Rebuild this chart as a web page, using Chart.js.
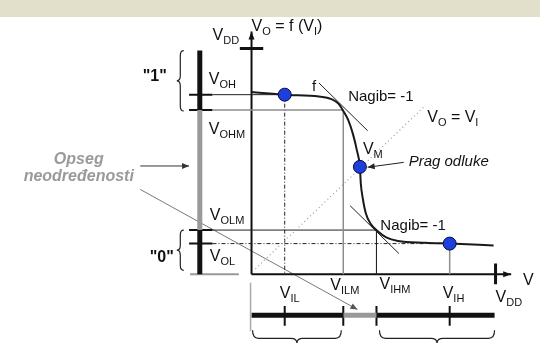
<!DOCTYPE html>
<html>
<head>
<meta charset="utf-8">
<script src="https://cdn.jsdelivr.net/npm/chart.js@4"></script>
<style>
  html, body { margin: 0; padding: 0; background: #fff; }
  #wrap { position: relative; width: 540px; height: 343px; overflow: hidden; }
  #banner { position: absolute; left: 0; top: 0; width: 540px; height: 17px; background: #e2e0ca; }
  #vtc { position: absolute; left: 0; top: 0; }
</style>
</head>
<body>
<div id="wrap">
  <div id="banner"></div>
  <canvas id="vtc" width="540" height="343"></canvas>
</div>
<script>
// supply and logic levels (V)
const VDD = 2.5;
const VOH = 1.99, VOHM = 1.82, VOLM = 0.49, VOL = 0.34;
const VIL = 0.34, VILM = 0.94, VIHM = 1.28, VIH = 2.03;

// transfer characteristic V_O = f(V_I)
const curveVin  = [0, 0.34, 0.69, 0.82, 0.89, 0.94, 0.99, 1.04, 1.08, 1.11, 1.12, 1.14, 1.17, 1.22, 1.29, 1.38, 1.50, 1.78, 2.03, 2.48];
const curveVout = [2.02, 1.99, 1.97, 1.94, 1.89, 1.81, 1.71, 1.55, 1.37, 1.19, 1.00, 0.84, 0.68, 0.56, 0.48, 0.41, 0.37, 0.35, 0.34, 0.32];

// marked points: (VIL,VOH), VM, (VIH,VOL)
const markerVin  = [VIL, 1.11, VIH];
const markerVout = [VOH, 1.19, VOL];

// slope = -1 tangents and the V_O = V_I line
const tangentHigh = [[0.69, 2.12], [1.19, 1.59]];
const tangentLow  = [[1.01, 0.76], [1.51, 0.23]];
const unityLine   = [[0.04, 0.06], [1.78, 1.87]];

// side bars (output range on the left, input range below)
const barX = -0.53, barTicks = [-0.64, -0.40];
const barY = -0.455, barYTicks = [-0.35, -0.57];

const FONT = '"Liberation Sans", Arial, sans-serif';

function pts(xs, ys) { return xs.map((x, i) => ({ x: x, y: ys[i] })); }

function seg(x1, y1, x2, y2, color, width, dash, extra) {
  return Object.assign({
    data: [{ x: x1, y: y1 }, { x: x2, y: y2 }],
    showLine: true, borderColor: color, borderWidth: width,
    borderDash: dash || [], pointRadius: 0, borderCapStyle: 'butt'
  }, extra || {});
}

const BLACK = '#111', GRAY = '#8c8c8c', DASHDOT = [4, 2, 1, 2];

const datasets = [
  // blue markers on the curve
  { data: pts(markerVin, markerVout), pointRadius: 6.5, pointBackgroundColor: '#1d3fdc',
    pointBorderColor: '#0b0b40', pointBorderWidth: 1, showLine: false },
  // the characteristic
  { data: pts(curveVin, curveVout), showLine: true, borderColor: '#1a1a1a', borderWidth: 2,
    pointRadius: 0, cubicInterpolationMode: 'monotone' },
  seg(tangentHigh[0][0], tangentHigh[0][1], tangentHigh[1][0], tangentHigh[1][1], '#222', 1),
  seg(tangentLow[0][0], tangentLow[0][1], tangentLow[1][0], tangentLow[1][1], '#222', 1),
  seg(unityLine[0][0], unityLine[0][1], unityLine[1][0], unityLine[1][1], '#9a9a9a', 1.2, [1, 3]),

  // level guide lines
  seg(barTicks[1], VOH, VIL, VOH, '#222', 1),
  seg(barTicks[1], VOHM, VILM, VOHM, GRAY, 1.5),
  seg(VILM, VOHM, VILM, 0, GRAY, 1.5),
  seg(barTicks[1], VOLM, VIHM, VOLM, '#222', 1),
  seg(VIHM, VOLM, VIHM, 0, '#222', 1),
  seg(barTicks[1], VOL, VIH, VOL, '#222', 1, DASHDOT),
  seg(VIL, VOH, VIL, 0, '#222', 1, DASHDOT),
  seg(VIH, VOL, VIH, 0, GRAY, 1.5),

  // axes with arrows and VDD ticks
  seg(0, 0, 0, 2.69, BLACK, 2, null, { arrow: true }),
  seg(0, 0, 2.66, 0, BLACK, 2, null, { arrow: true }),
  seg(-0.12, VDD, 0.12, VDD, BLACK, 3),
  seg(VDD, 0.12, VDD, -0.11, BLACK, 3),

  // output level bar
  seg(barX, VDD - 0.02, barX, VOHM, BLACK, 5),
  seg(barX, VOHM, barX, VOLM, '#999', 5),
  seg(barX, VOLM, barX, 0, BLACK, 5),
  seg(barTicks[0], VOH, barTicks[1], VOH, BLACK, 2),
  seg(barTicks[0], VOHM, barTicks[1], VOHM, BLACK, 2),
  seg(barTicks[0], VOLM, barTicks[1], VOLM, BLACK, 2),
  seg(barTicks[0], VOL, barTicks[1], VOL, BLACK, 2),
  seg(-0.63, 0, -0.13, 0, '#999', 2),

  // input level bar
  seg(-0.01, -0.095, -0.01, -0.63, '#aaa', 1.5),
  seg(0, barY, VILM, barY, BLACK, 5),
  seg(VILM, barY, VIHM, barY, '#999', 5),
  seg(VIHM, barY, 2.49, barY, BLACK, 5),
  seg(VIL, barYTicks[0], VIL, barYTicks[1], BLACK, 2),
  seg(VILM, barYTicks[0], VILM, barYTicks[1], BLACK, 2),
  seg(VIHM, barYTicks[0], VIHM, barYTicks[1], BLACK, 2),
  seg(VIH, barYTicks[0], VIH, barYTicks[1], BLACK, 2),

  // callout arrows
  seg(1.56, 1.24, 1.19, 1.186, '#222', 1, null, { arrow: true }),
  seg(-1.14, 1.20, -0.64, 1.20, '#333', 1, null, { arrow: true }),
  seg(-1.14, 0.94, 1.085, -0.39, '#555', 0.8, null, { arrow: true })
];

// text with subscripts: parts = [[text, isSub], ...]
function rich(ctx, parts, x, y, size, style, align) {
  let total = 0;
  parts.forEach(p => {
    ctx.font = style + ' ' + (p[1] ? Math.round(size * 0.7) : size) + 'px ' + FONT;
    total += ctx.measureText(p[0]).width;
  });
  let cx = align === 'center' ? x - total / 2 : x;
  parts.forEach(p => {
    ctx.font = style + ' ' + (p[1] ? Math.round(size * 0.7) : size) + 'px ' + FONT;
    ctx.fillText(p[0], cx, p[1] ? y + 4 : y);
    cx += ctx.measureText(p[0]).width;
  });
}

function vBrace(ctx, x, y1, y2, w) {
  const m = (y1 + y2) / 2, r = 5, h = x - w / 2;
  ctx.beginPath();
  ctx.moveTo(x, y1);
  ctx.quadraticCurveTo(h, y1, h, y1 + r);
  ctx.lineTo(h, m - r);
  ctx.quadraticCurveTo(h, m, x - w, m);
  ctx.quadraticCurveTo(h, m, h, m + r);
  ctx.lineTo(h, y2 - r);
  ctx.quadraticCurveTo(h, y2, x, y2);
  ctx.stroke();
}

function hBrace(ctx, x1, x2, y, w) {
  const m = (x1 + x2) / 2, r = 6, v = y + w / 2;
  ctx.beginPath();
  ctx.moveTo(x1, y - 3);
  ctx.quadraticCurveTo(x1, v, x1 + r, v);
  ctx.lineTo(m - r, v);
  ctx.quadraticCurveTo(m, v, m, y + w);
  ctx.quadraticCurveTo(m, v, m + r, v);
  ctx.lineTo(x2 - r, v);
  ctx.quadraticCurveTo(x2, v, x2, y - 3);
  ctx.stroke();
}

const annotations = {
  id: 'annotations',
  afterDatasetsDraw(chart) {
    const ctx = chart.ctx, sx = chart.scales.x, sy = chart.scales.y;
    const px = v => sx.getPixelForValue(v), py = v => sy.getPixelForValue(v);
    ctx.save();

    // arrowheads at the end of flagged lines
    chart.data.datasets.forEach((ds, i) => {
      if (!ds.arrow) return;
      const el = chart.getDatasetMeta(i).data;
      const a = el[el.length - 2], b = el[el.length - 1];
      const ang = Math.atan2(b.y - a.y, b.x - a.x), len = ds.borderWidth > 1.5 ? 8 : 7, hw = 3;
      ctx.fillStyle = ds.borderColor;
      ctx.beginPath();
      ctx.moveTo(b.x, b.y);
      ctx.lineTo(b.x - len * Math.cos(ang) + hw * Math.sin(ang), b.y - len * Math.sin(ang) - hw * Math.cos(ang));
      ctx.lineTo(b.x - len * Math.cos(ang) - hw * Math.sin(ang), b.y - len * Math.sin(ang) + hw * Math.cos(ang));
      ctx.closePath();
      ctx.fill();
    });

    // braces
    ctx.strokeStyle = '#222';
    ctx.lineWidth = 1.2;
    vBrace(ctx, px(barX) - 16, py(VDD) + 2, py(VOHM) + 1, 7);
    vBrace(ctx, px(barX) - 16, py(VOLM), py(0) - 4, 7);
    hBrace(ctx, px(0) + 1, px(VILM) - 2, py(barY) + 18, 10);
    hBrace(ctx, px(VIHM) + 3, px(2.49), py(barY) + 18, 10);

    // labels
    ctx.fillStyle = '#111';
    ctx.textBaseline = 'alphabetic';
    ctx.textAlign = 'left';
    const S = 16;
    rich(ctx, [['V'], ['DD', 1]], px(0) - 39, py(VDD) - 9, S, '');
    rich(ctx, [['V'], ['O', 1], [' = f (V'], ['I', 1], [')']], px(0), py(VDD) - 18, S, '');
    rich(ctx, [['V'], ['OH', 1]], px(barX) + 9, py(VOH) - 11, S, '');
    rich(ctx, [['V'], ['OHM', 1]], px(barX) + 9, py(VOHM) + 24, S, '');
    rich(ctx, [['V'], ['OLM', 1]], px(barX) + 10, py(VOLM) - 10, S, '');
    rich(ctx, [['V'], ['OL', 1]], px(barX) + 10, py(VOL) + 17, S, '');
    rich(ctx, [['"1"']], px(barX) - 45, py(VOH) - 14, S, 'bold', 'center');
    rich(ctx, [['"0"']], px(barX) - 38, py(VOL) + 18, S, 'bold', 'center');
    rich(ctx, [['V'], ['IL', 1]], px(VIL) - 5, py(0) + 24, S, '');
    rich(ctx, [['V'], ['ILM', 1]], px(VILM) - 13, py(0) + 16, S, '');
    rich(ctx, [['V'], ['IHM', 1]], px(VIHM) + 3, py(0) + 15, S, '');
    rich(ctx, [['V'], ['IH', 1]], px(VIH) - 7, py(0) + 24, S, '');
    rich(ctx, [['V'], ['DD', 1]], px(VDD), py(0) + 28, S, '');
    rich(ctx, [['V']], px(2.78), py(0) + 11, S, '');
    rich(ctx, [['f']], px(0.62), py(2.03), 15, '');
    rich(ctx, [['Nagib= -1']], px(0.99), py(1.92), 15, '');
    rich(ctx, [['Nagib= -1']], px(1.32), py(0.49), 15, '');
    rich(ctx, [['V'], ['O', 1], [' = V'], ['I', 1]], px(1.80), py(1.69), S, '');
    rich(ctx, [['V'], ['M', 1]], px(markerVin[1]) + 3, py(markerVout[1]) - 13, S, '');
    rich(ctx, [['Prag odluke']], px(1.61), py(1.20), 15, 'italic');
    ctx.fillStyle = '#9a9a9a';
    rich(ctx, [['Opseg']], px(-1.77), py(1.22), 16, 'italic bold', 'center');
    rich(ctx, [['neodređenosti']], px(-1.77), py(1.03), 16, 'italic bold', 'center');
    ctx.restore();
  }
};

new Chart(document.getElementById('vtc'), {
  type: 'scatter',
  data: { datasets: datasets },
  options: {
    responsive: false,
    animation: false,
    events: [],
    layout: { padding: 0 },
    plugins: { legend: { display: false }, tooltip: { enabled: false } },
    elements: { line: { tension: 0 } },
    scales: {
      x: { type: 'linear', display: false, min: -2.5, max: 2.8785 },
      y: { type: 'linear', display: false, min: -0.678, max: 2.9555 }
    }
  },
  plugins: [annotations]
});
</script>
</body>
</html>
